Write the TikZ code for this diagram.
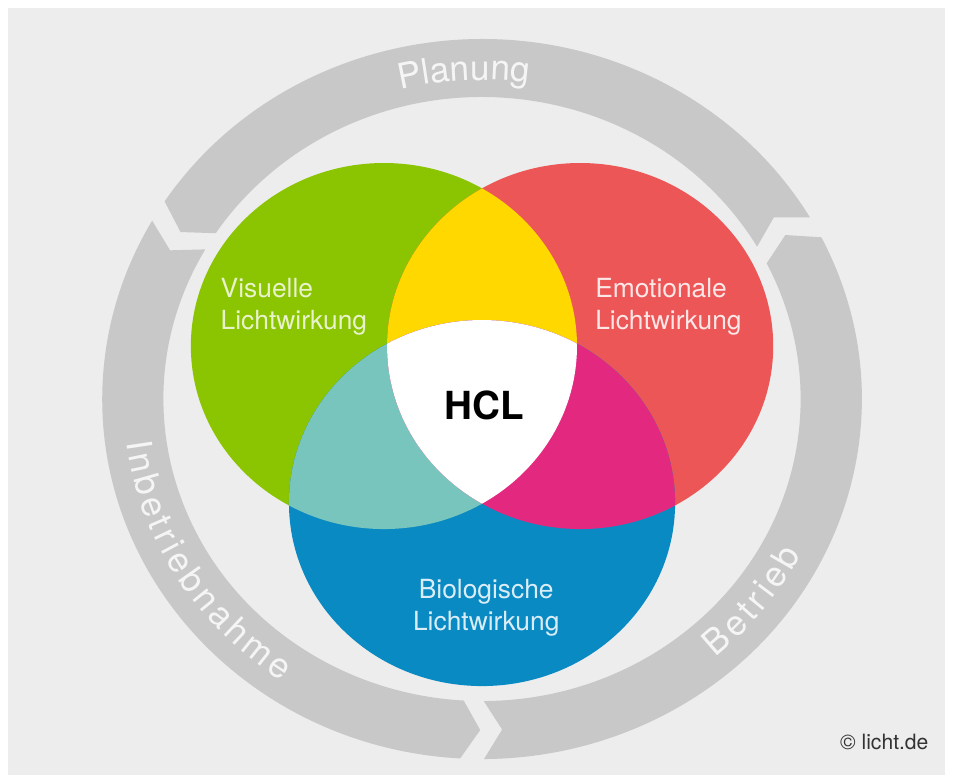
\documentclass[tikz,border=0pt]{standalone}
\usepackage{fontspec}
\setmainfont{TeX Gyre Heros}
\usepackage{tikz}
\usetikzlibrary{decorations.text}

\definecolor{bggray}{HTML}{EDEDED}
\definecolor{ringgray}{HTML}{C8C8C8}
\definecolor{ringfg}{HTML}{F5F5F5}
\definecolor{vgreen}{HTML}{8BC400}
\definecolor{vred}{HTML}{EC5656}
\definecolor{vblue}{HTML}{0A8AC2}
\definecolor{vyellow}{HTML}{FFD800}
\definecolor{vteal}{HTML}{78C5BD}
\definecolor{vmagenta}{HTML}{E2287F}

\newcommand{\ringfont}{\fontsize{20}{20}\selectfont}

\begin{document}
\begin{tikzpicture}[
    x=0.0211cm, y=0.02cm,
    venntext/.style={font=\fontsize{15}{18.2}\selectfont, inner sep=0pt},
    ringtext/.style={decorate, decoration={text along path, text align=center, text color=ringfg}},
    spacedtext/.style={decorate, decoration={text effects along path, text={#1}, text align=center,
      text effects/.cd, text along path,
      characters={inner sep=0pt, text=ringfg, font=\ringfont},
      character widths={inner sep=0pt, inner xsep=1.1pt, font=\ringfont}}}
  ]
  \useasboundingbox (-456.9,399) rectangle (446.4,-383);

  % Background
  \fill[white] (-456.9,399) rectangle (446.4,-383);
  \fill[bggray] (-449.3,391) rectangle (438.9,-376);

  % Ring arrows
  \foreach \a/\b in {30.3/146.7, 150.3/266.7, 270.3/386.7}
    \fill[ringgray] (\a:360) -- ({\a+3}:331) -- (\a:302)
      arc[start angle=\a, end angle=\b, radius=302]
      -- ({\b+3}:331) -- (\b:360)
      arc[start angle=\b, end angle=\a, radius=360] -- cycle;

  % Ring labels
  \path[ringtext, decoration={text={|\ringfont|Planung}}]
    (121:319) arc[start angle=121, end angle=65, radius=319];
  \path[spacedtext=Inbetriebnahme]
    (156:340) arc[start angle=156, end angle=266, radius=340];
  \path[spacedtext=Betrieb]
    (275:340) arc[start angle=275, end angle=370, radius=340];

  % Circle centres
  \coordinate (cvis) at (-93,53);
  \coordinate (cemo) at (93,53);
  \coordinate (cbio) at (0,-104);

  % Circles
  \fill[vgreen] (cvis) circle (183);
  \fill[vred] (cemo) circle (183);
  \fill[vblue] (cbio) circle (183);
  \begin{scope}
    \clip (cvis) circle (183);
    \fill[vyellow] (cemo) circle (183);
    \fill[vteal] (cbio) circle (183);
  \end{scope}
  \begin{scope}
    \clip (cemo) circle (183);
    \fill[vmagenta] (cbio) circle (183);
    \clip (cvis) circle (183);
    \fill[white] (cbio) circle (183);
  \end{scope}

  % Nodes
  \node[venntext, align=left, anchor=west, text=white!80!vgreen] (visuell) at (-248,92) {Visuelle\\Lichtwirkung};
  \node[venntext, align=left, anchor=west, text=white!85!vred] (emotional) at (107,92) {Emotionale\\Lichtwirkung};
  \node[venntext, align=center, text=white!85!vblue] (biologisch) at (4,-209) {Biologische\\Lichtwirkung};
  \node[font=\bfseries\fontsize{22}{22}\selectfont] (hcl) at (2,-6) {HCL};
  \node[font=\fontsize{12}{12}\selectfont, anchor=east, text=black!80] (credit) at (429,-343) {© licht.de};

\end{tikzpicture}
\end{document}
